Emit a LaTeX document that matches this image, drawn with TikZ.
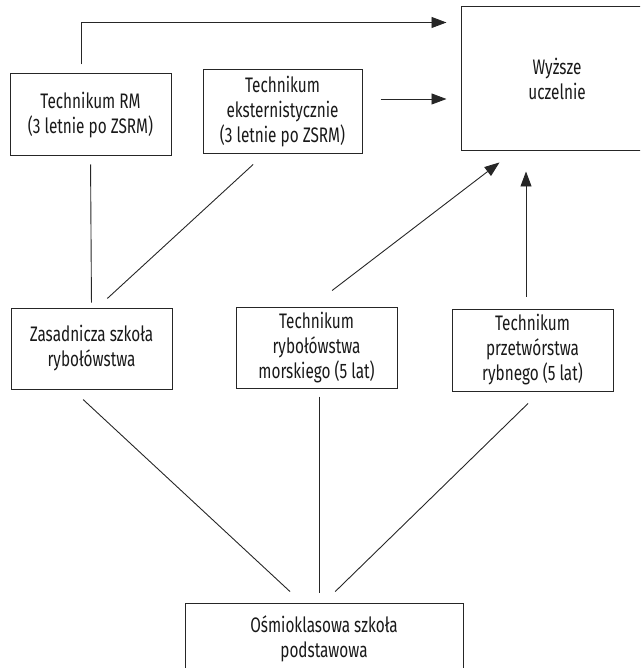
\documentclass[tikz,border=0pt]{standalone}
\usepackage{fontspec}
\setmainfont[FakeStretch=0.73]{Fira Sans}
\usetikzlibrary{arrows.meta}
\tikzset{
  box/.style={draw=black!85, line width=1pt, inner sep=0pt, align=center,
    font=\fontsize{21}{25}\selectfont, text=black!90},
  conn/.style={draw=black!85, line width=0.9pt},
  arr/.style={conn, -{Triangle[length=15pt,width=11pt]}},
}
\begin{document}
\begin{tikzpicture}[x=1pt,y=-1pt]
\useasboundingbox (0,0) rectangle (640,668);
\clip (0,0) rectangle (640,668);
\node[box, minimum width=161pt, minimum height=82pt] (rm) at (90.5,115) {Technikum RM\\(3 letnie po ZSRM)};
\node[box, minimum width=159pt, minimum height=84pt] (eks) at (282.5,112) {Technikum\\eksternistycznie\\(3 letnie po ZSRM)};
\node[box, minimum width=192pt, minimum height=144pt] (wyz) at (557,79) {Wyższe\\uczelnie};
\node[box, minimum width=161pt, minimum height=81pt] (zas) at (91.5,348.5) {Zasadnicza szkoła\\rybołówstwa};
\node[box, minimum width=161pt, minimum height=81pt] (mor) at (316.5,347.5) {Technikum\\rybołówstwa\\morskiego (5 lat)};
\node[box, minimum width=161pt, minimum height=82pt] (ryb) at (532.5,350) {Technikum\\przetwórstwa\\rybnego (5 lat)};
\node[box, minimum width=278pt, minimum height=71pt] (osm) at (324,638.5) {Ośmioklasowa szkoła\\podstawowa};

\coordinate (c1) at ([xshift=-9.5pt]rm.north);
\coordinate (c1e) at ([yshift=-16pt]wyz.north west);
\draw[arr, shorten <=9pt, shorten >=14pt] (c1) |- (c1e);

\coordinate (c2) at ([yshift=13pt]eks.east);
\draw[arr, shorten <=18pt, shorten >=14pt] (c2) -- (c2 -| wyz.west);

\draw[conn, shorten <=8pt, shorten >=5pt] (rm.south) -- (zas.north);

\coordinate (c4a) at ([xshift=-18.5pt]eks.south);
\coordinate (c4b) at ([xshift=6pt]zas.north);
\draw[conn, shorten <=14.7pt, shorten >=13.3pt] (c4a) -- (c4b);

\coordinate (c5a) at ([xshift=-5.3pt]mor.north);
\coordinate (c5b) at ([xshift=53.3pt]wyz.south west);
\draw[arr, shorten <=26.3pt, shorten >=18pt] (c5a) -- (c5b);

\coordinate (c6) at ([xshift=-6.5pt]ryb.north);
\draw[arr, shorten <=12pt, shorten >=20pt] (c6) -- (c6 |- wyz.south);

\coordinate (c7a) at ([xshift=-19.2pt]zas.south);
\coordinate (c7b) at ([xshift=-22.2pt]osm.north);
\draw[conn, shorten <=14.7pt, shorten >=16.1pt] (c7a) -- (c7b);

\coordinate (c8) at ([xshift=2.5pt]mor.south);
\draw[conn, shorten <=8pt, shorten >=10pt] (c8) -- (c8 |- osm.north);

\coordinate (c9a) at ([xshift=7.8pt]ryb.south);
\draw[conn, shorten <=17.1pt, shorten >=15.7pt] (c9a) -- (osm.north);
\end{tikzpicture}
\end{document}
